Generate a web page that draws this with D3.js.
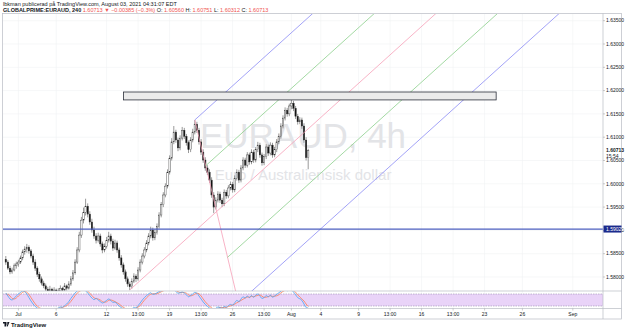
<!DOCTYPE html>
<html lang="sv">
<head>
<meta charset="UTF-8">
<title>EURAUD 4h</title>
<script src="https://d3js.org/d3.v7.min.js"></script>
<style>
  body { margin: 0; background: #fff; }
  svg { display: block; font-family: "Liberation Sans", Arial, sans-serif; }
  .tick-label { font-size: 5px; fill: #131722; }
</style>
</head>
<body>
<svg width="625" height="332"></svg>
<script>
// bars are 4h candles counted from Jul 1 (weekends skipped); the first one is bar -6
const firstBar = -6;
const candles = [
  [1.5838,1.5845,1.5826,1.5832],[1.5832,1.5836,1.5815,1.5819],[1.5819,1.5824,1.5806,1.5811],[1.5811,1.5820,1.5807,1.5815],
  [1.5815,1.5829,1.5812,1.5824],[1.5824,1.5833,1.5818,1.5828],[1.5828,1.5837,1.5822,1.5832],[1.5832,1.5846,1.5828,1.5841],
  [1.5841,1.5859,1.5836,1.5854],[1.5854,1.5866,1.5848,1.5860],[1.5860,1.5871,1.5852,1.5864],[1.5864,1.5868,1.5850,1.5856],
  [1.5856,1.5860,1.5840,1.5845],[1.5845,1.5850,1.5826,1.5832],[1.5832,1.5838,1.5813,1.5819],[1.5819,1.5823,1.5800,1.5806],
  [1.5806,1.5811,1.5790,1.5796],[1.5796,1.5801,1.5782,1.5787],[1.5787,1.5792,1.5776,1.5781],[1.5781,1.5786,1.5768,1.5774],
  [1.5774,1.5779,1.5764,1.5770],[1.5770,1.5781,1.5766,1.5774],[1.5774,1.5777,1.5762,1.5768],[1.5768,1.5778,1.5765,1.5772],
  [1.5772,1.5775,1.5760,1.5766],[1.5766,1.5776,1.5763,1.5770],[1.5770,1.5782,1.5767,1.5776],[1.5776,1.5779,1.5767,1.5772],
  [1.5772,1.5787,1.5770,1.5781],[1.5781,1.5784,1.5771,1.5776],[1.5776,1.5791,1.5773,1.5785],[1.5785,1.5802,1.5781,1.5796],
  [1.5796,1.5815,1.5792,1.5809],[1.5809,1.5838,1.5805,1.5832],[1.5832,1.5864,1.5828,1.5858],[1.5858,1.5897,1.5853,1.5890],
  [1.5890,1.5929,1.5884,1.5922],[1.5922,1.5949,1.5915,1.5939],[1.5939,1.5968,1.5932,1.5952],[1.5952,1.5958,1.5928,1.5935],
  [1.5935,1.5941,1.5912,1.5918],[1.5918,1.5925,1.5895,1.5901],[1.5901,1.5908,1.5882,1.5888],[1.5888,1.5894,1.5872,1.5879],
  [1.5879,1.5895,1.5874,1.5888],[1.5888,1.5893,1.5865,1.5871],[1.5871,1.5876,1.5851,1.5858],[1.5858,1.5872,1.5853,1.5866],
  [1.5866,1.5886,1.5861,1.5879],[1.5879,1.5897,1.5874,1.5888],[1.5888,1.5893,1.5870,1.5877],[1.5877,1.5882,1.5856,1.5862],
  [1.5862,1.5880,1.5858,1.5873],[1.5873,1.5878,1.5852,1.5858],[1.5858,1.5863,1.5835,1.5841],[1.5841,1.5847,1.5820,1.5826],
  [1.5826,1.5831,1.5805,1.5811],[1.5811,1.5816,1.5790,1.5796],[1.5796,1.5801,1.5779,1.5785],[1.5785,1.5790,1.5772,1.5779],
  [1.5779,1.5797,1.5775,1.5791],[1.5791,1.5808,1.5787,1.5802],[1.5802,1.5806,1.5789,1.5796],[1.5796,1.5821,1.5792,1.5815],
  [1.5815,1.5838,1.5810,1.5832],[1.5832,1.5851,1.5827,1.5845],[1.5845,1.5864,1.5840,1.5858],[1.5858,1.5879,1.5853,1.5873],
  [1.5873,1.5894,1.5868,1.5888],[1.5888,1.5908,1.5883,1.5901],[1.5901,1.5906,1.5878,1.5884],[1.5884,1.5902,1.5879,1.5896],
  [1.5896,1.5915,1.5891,1.5909],[1.5909,1.5939,1.5904,1.5933],[1.5933,1.5961,1.5928,1.5955],[1.5955,1.5982,1.5950,1.5976],
  [1.5976,1.6001,1.5971,1.5995],[1.5995,1.6031,1.5990,1.6025],[1.6025,1.6061,1.6020,1.6055],[1.6055,1.6098,1.6050,1.6090],
  [1.6090,1.6124,1.6085,1.6111],[1.6111,1.6116,1.6088,1.6094],[1.6094,1.6099,1.6070,1.6077],[1.6077,1.6104,1.6072,1.6098],
  [1.6098,1.6122,1.6093,1.6115],[1.6115,1.6120,1.6096,1.6102],[1.6102,1.6107,1.6082,1.6088],[1.6088,1.6093,1.6066,1.6073],
  [1.6073,1.6100,1.6068,1.6094],[1.6094,1.6118,1.6089,1.6111],[1.6111,1.6137,1.6106,1.6128],[1.6128,1.6133,1.6109,1.6115],
  [1.6115,1.6120,1.6084,1.6090],[1.6090,1.6096,1.6062,1.6068],[1.6068,1.6074,1.6045,1.6051],[1.6051,1.6057,1.6028,1.6034],
  [1.6034,1.6040,1.6019,1.6025],[1.6025,1.6031,1.6002,1.6008],[1.6008,1.6014,1.5970,1.5976],[1.5976,1.5982,1.5937,1.5950],
  [1.5950,1.5971,1.5945,1.5965],[1.5965,1.5984,1.5960,1.5978],[1.5978,1.5983,1.5959,1.5965],[1.5965,1.5970,1.5950,1.5957],
  [1.5957,1.5988,1.5952,1.5982],[1.5982,1.5987,1.5968,1.5974],[1.5974,1.5997,1.5969,1.5991],[1.5991,1.6005,1.5986,1.5999],
  [1.5999,1.6004,1.5981,1.5987],[1.5987,1.6018,1.5982,1.6012],[1.6012,1.6031,1.6007,1.6025],[1.6025,1.6030,1.6002,1.6008],
  [1.6008,1.6040,1.6003,1.6034],[1.6034,1.6057,1.6029,1.6051],[1.6051,1.6056,1.6034,1.6040],[1.6040,1.6068,1.6035,1.6062],
  [1.6062,1.6067,1.6041,1.6047],[1.6047,1.6074,1.6042,1.6068],[1.6068,1.6073,1.6045,1.6051],[1.6051,1.6079,1.6046,1.6073],
  [1.6073,1.6090,1.6068,1.6083],[1.6083,1.6088,1.6056,1.6062],[1.6062,1.6067,1.6039,1.6045],[1.6045,1.6064,1.6040,1.6058],
  [1.6058,1.6085,1.6053,1.6079],[1.6079,1.6084,1.6060,1.6066],[1.6066,1.6089,1.6061,1.6083],[1.6083,1.6088,1.6056,1.6062],
  [1.6062,1.6079,1.6057,1.6073],[1.6073,1.6096,1.6068,1.6090],[1.6090,1.6108,1.6085,1.6102],[1.6102,1.6130,1.6097,1.6124],
  [1.6124,1.6147,1.6119,1.6141],[1.6141,1.6164,1.6136,1.6158],[1.6158,1.6163,1.6144,1.6150],[1.6150,1.6172,1.6145,1.6167],
  [1.6167,1.6180,1.6160,1.6173],[1.6173,1.6178,1.6156,1.6162],[1.6162,1.6167,1.6139,1.6145],[1.6145,1.6150,1.6127,1.6133],
  [1.6133,1.6143,1.6128,1.6137],[1.6137,1.6142,1.6118,1.6124],[1.6124,1.6130,1.6088,1.6094],[1.6094,1.6100,1.6050,1.6056],
  [1.60560,1.60751,1.60312,1.60713]
];

// stoch RSI pane, read by eye
const stochK = [
  85,70,55,50,60,70,80,88,95,92,80,62,
  45,30,18,10,5,3,2,2,3,6,4,8,6,10,15,14,22,
  30,42,58,72,85,95,100,100,100,96,85,72,60,52,58,50,42,
  35,40,48,55,48,38,40,30,20,12,6,3,1,0,5,12,10,22,35,50,62,72,
  80,86,78,80,86,92,96,100,100,100,100,100,100,92,84,86,90,85,76,66,72,80,88,84,70,
  55,40,28,18,10,4,0,8,15,12,8,18,14,22,28,24,
  36,48,42,55,66,60,70,62,72,64,74,80,70,58,62,72,66,74,64,70,78,86,94,100,100,96,100,100,
  90,76,62,56,48,30,12,10
];
const stochD = [
  80,78,70,58,55,60,70,79,88,92,89,78,
  62,46,31,19,11,6,3,2,2,4,4,6,6,8,10,13,17,
  22,31,43,57,72,84,93,98,100,99,94,84,72,61,57,55,50,
  42,39,41,48,50,47,42,36,30,21,13,7,3,1,2,6,9,15,22,36,49,61,
  71,79,81,81,81,86,91,96,99,100,100,100,100,97,92,87,87,87,84,76,71,73,80,84,81,
  70,55,41,29,19,11,5,4,8,12,12,13,13,18,21,25,
  29,36,42,48,54,60,65,64,68,66,70,73,75,69,63,64,67,71,68,69,71,76,86,93,98,99,99,99,
  97,89,76,65,55,45,30,17
];

const priceTicks = [1.58, 1.585, 1.59, 1.595, 1.60, 1.605, 1.61, 1.615, 1.62, 1.625, 1.63, 1.635];
const timeTicks = [
  {bar: 0, label: "Jul"}, {bar: 18, label: "6"}, {bar: 42, label: "12"}, {bar: 57, label: "13:00"},
  {bar: 72, label: "19"}, {bar: 87, label: "13:00"}, {bar: 102, label: "26"}, {bar: 117, label: "13:00"},
  {bar: 130, label: "Aug"}, {bar: 144, label: "4"}, {bar: 162, label: "9"}, {bar: 177, label: "13:00"},
  {bar: 192, label: "16"}, {bar: 207, label: "13:00"}, {bar: 222, label: "23"}, {bar: 240, label: "26"},
  {bar: 264, label: "Sep"}
];
const hLinePrice = 1.59029;
const lastPrice = 1.60713;
const zone = {bar1: 50, bar2: 227.5, top: 1.6197, bottom: 1.6180};
const fork = {
  p1: {bar: 53, price: 1.5772},
  p2: {bar: 84, price: 1.6137},
  p3: {bar: 104.8, price: 1.5744}
};
const forkLevels = [
  {level: 1, color: "#8c8cf5"}, {level: 0.5, color: "#8bcf8b"}, {level: 0, color: "#f6a0b8"},
  {level: -0.5, color: "#8bcf8b"}, {level: -1, color: "#8c8cf5"}
];

const svg = d3.select("svg");
const pane = {left: 3, right: 603, top: 14, bottom: 291};
const osc = {top: 291, bottom: 308};

const x = d3.scaleLinear().domain([0, 264]).range([18.4, 572.8]);
const y = d3.scaleLinear().domain([1.58, 1.635]).range([277, 20.7]);
const yOsc = d3.scaleLinear().domain([0, 100]).range([310, 290]);

const defs = svg.append("defs");
defs.append("clipPath").attr("id", "clipMain").append("rect")
  .attr("x", pane.left).attr("y", pane.top)
  .attr("width", pane.right - pane.left).attr("height", pane.bottom - pane.top);
defs.append("clipPath").attr("id", "clipOsc").append("rect")
  .attr("x", pane.left).attr("y", osc.top)
  .attr("width", pane.right - pane.left).attr("height", osc.bottom - osc.top);

// grid
const grid = svg.append("g").attr("stroke", "#f0f1f4").attr("stroke-width", 0.6);
grid.selectAll(".v").data(timeTicks).join("line")
  .attr("x1", d => x(d.bar)).attr("x2", d => x(d.bar))
  .attr("y1", pane.top).attr("y2", osc.bottom);
grid.selectAll(".h").data(priceTicks).join("line")
  .attr("x1", pane.left).attr("x2", pane.right)
  .attr("y1", d => y(d)).attr("y2", d => y(d));

// watermark
const cx = (pane.left + pane.right) / 2;
svg.append("text").attr("x", cx).attr("y", 148).attr("text-anchor", "middle")
  .attr("font-size", 35).attr("fill", "#e3e4e7").text("EURAUD, 4h");
svg.append("text").attr("x", cx).attr("y", 180).attr("text-anchor", "middle")
  .attr("font-size", 15).attr("fill", "#e3e4e7").text("Euro / Australiensisk dollar");

const main = svg.append("g").attr("clip-path", "url(#clipMain)");

// candles
const bw = 1.4;
const cg = main.append("g");
cg.selectAll("line").data(candles).join("line")
  .attr("x1", (d, i) => x(firstBar + i)).attr("x2", (d, i) => x(firstBar + i))
  .attr("y1", d => y(d[1])).attr("y2", d => y(d[2]))
  .attr("stroke", "#555").attr("stroke-width", 0.6);
cg.selectAll("rect").data(candles).join("rect")
  .attr("x", (d, i) => x(firstBar + i) - bw / 2).attr("width", bw)
  .attr("y", d => y(Math.max(d[0], d[3])))
  .attr("height", d => Math.max(0.6, Math.abs(y(d[0]) - y(d[3]))))
  .attr("fill", d => d[3] >= d[0] ? "#fff" : "#111")
  .attr("stroke", "#333").attr("stroke-width", 0.4);

// pitchfork
const P = p => [x(p.bar), y(p.price)];
const p1 = P(fork.p1), p2 = P(fork.p2), p3 = P(fork.p3);
const mid = [(p2[0] + p3[0]) / 2, (p2[1] + p3[1]) / 2];
const dir = [mid[0] - p1[0], mid[1] - p1[1]];
const fg = main.append("g").attr("fill", "none").attr("stroke-width", 0.8);
fg.append("line").attr("x1", p2[0]).attr("y1", p2[1]).attr("x2", p3[0]).attr("y2", p3[1])
  .attr("stroke", "#f6a0b8");
fg.append("line").attr("x1", p1[0]).attr("y1", p1[1]).attr("x2", mid[0]).attr("y2", mid[1])
  .attr("stroke", "#f6a0b8");
fg.selectAll(".lvl").data(forkLevels).join("line")
  .attr("x1", d => mid[0] + d.level * (p2[0] - mid[0]))
  .attr("y1", d => mid[1] + d.level * (p2[1] - mid[1]))
  .attr("x2", d => mid[0] + d.level * (p2[0] - mid[0]) + dir[0] * 10)
  .attr("y2", d => mid[1] + d.level * (p2[1] - mid[1]) + dir[1] * 10)
  .attr("stroke", d => d.color);

// rectangle zone
main.append("rect")
  .attr("x", x(zone.bar1)).attr("y", y(zone.top))
  .attr("width", x(zone.bar2) - x(zone.bar1)).attr("height", y(zone.bottom) - y(zone.top))
  .attr("fill", "#ebebeb").attr("stroke", "#2a2e39").attr("stroke-width", 0.8);

// horizontal line
main.append("line").attr("x1", pane.left).attr("x2", pane.right)
  .attr("y1", y(hLinePrice)).attr("y2", y(hLinePrice))
  .attr("stroke", "#4c5fbf").attr("stroke-width", 1.3);

// oscillator pane
const og = svg.append("g").attr("clip-path", "url(#clipOsc)");
og.append("rect").attr("x", pane.left).attr("width", pane.right - pane.left)
  .attr("y", yOsc(80)).attr("height", yOsc(20) - yOsc(80)).attr("fill", "#e9d3f8");
[20, 80].forEach(v => og.append("line").attr("x1", pane.left).attr("x2", pane.right)
  .attr("y1", yOsc(v)).attr("y2", yOsc(v))
  .attr("stroke", "#8a7fa0").attr("stroke-width", 0.5).attr("stroke-dasharray", "1.5,1"));
const oscLine = d3.line().x((d, i) => x(firstBar + i)).y(d => yOsc(d)).curve(d3.curveMonotoneX);
og.append("path").datum(stochD).attr("d", oscLine).attr("fill", "none")
  .attr("stroke", "#ff7b52").attr("stroke-width", 0.8);
og.append("path").datum(stochK).attr("d", oscLine).attr("fill", "none")
  .attr("stroke", "#4aa3f0").attr("stroke-width", 0.8);

// frame
const frame = svg.append("g").attr("stroke", "#b8bbc3").attr("stroke-width", 0.7).attr("fill", "none");
frame.append("rect").attr("x", 2.5).attr("y", 13.5).attr("width", 619).attr("height", 305.5);
frame.append("line").attr("x1", pane.right).attr("x2", pane.right).attr("y1", 13.5).attr("y2", 319);
frame.append("line").attr("x1", 2.5).attr("x2", 621.5).attr("y1", pane.bottom).attr("y2", pane.bottom);
frame.append("line").attr("x1", 2.5).attr("x2", 621.5).attr("y1", osc.bottom + 0.5).attr("y2", osc.bottom + 0.5);

// price axis
const pa = svg.append("g");
pa.selectAll("line").data(priceTicks).join("line")
  .attr("x1", pane.right).attr("x2", pane.right + 2)
  .attr("y1", d => y(d)).attr("y2", d => y(d)).attr("stroke", "#999").attr("stroke-width", 0.5);
pa.selectAll("text").data(priceTicks).join("text").attr("class", "tick-label")
  .attr("x", pane.right + 3).attr("y", d => y(d) + 1.7)
  .text(d => d.toFixed(5));

// last price label
pa.append("text").attr("class", "tick-label").attr("x", pane.right + 3).attr("y", y(lastPrice) + 1.7)
  .attr("font-weight", "bold").text(lastPrice.toFixed(5));
pa.append("text").attr("class", "tick-label").attr("x", pane.right + 3).attr("y", y(lastPrice) + 7)
  .text("15:54");

// horizontal line label
pa.append("rect").attr("x", pane.right + 0.5).attr("y", y(hLinePrice) - 3.5)
  .attr("width", 18).attr("height", 7).attr("fill", "#1b2a8c");
pa.append("text").attr("class", "tick-label").attr("x", pane.right + 3).attr("y", y(hLinePrice) + 1.7)
  .style("fill", "#fff").text(hLinePrice.toFixed(5));

// time axis
const ta = svg.append("g");
ta.selectAll("line").data(timeTicks).join("line")
  .attr("x1", d => x(d.bar)).attr("x2", d => x(d.bar))
  .attr("y1", osc.bottom + 0.5).attr("y2", osc.bottom + 2.5).attr("stroke", "#999").attr("stroke-width", 0.5);
ta.selectAll("text").data(timeTicks).join("text").attr("class", "tick-label")
  .attr("x", d => x(d.bar)).attr("y", 315.5).attr("text-anchor", "middle")
  .text(d => d.label);

// header
const h = svg.append("g").attr("font-size", 5.5).attr("fill", "#131722");
h.append("text").attr("x", 3).attr("y", 6).text("lbkman publicerad på TradingView.com, August 03, 2021 04:31:07 EDT");
const t2 = h.append("text").attr("x", 3).attr("y", 11.5);
const red = "#ef5350";
[
  ["GLOBALPRIME:EURAUD, 240 ", "#131722", "bold"], ["1.60713 ▼ −0.00385 (−0.3%) ", red],
  ["O: ", "#131722"], ["1.60560 ", red], ["H: ", "#131722"], ["1.60751 ", red],
  ["L: ", "#131722"], ["1.60312 ", red], ["C: ", "#131722"], ["1.60713", red]
].forEach(([s, c, w]) => t2.append("tspan").attr("fill", c).attr("font-weight", w || null).text(s));

// logo
const logo = svg.append("g").attr("transform", "translate(3,322)");
logo.append("path").attr("d", "M0,0 h3 v4.5 h-1.5 v-3 h-1.5 z M3.5,0 h1.2 l-1.2,4.5 z M5,0 h1.5 l-1.8,4.5 h-1 z").attr("fill", "#131722");
logo.append("text").attr("x", 8).attr("y", 4.5).attr("font-size", 6).attr("font-weight", "bold")
  .attr("fill", "#131722").text("TradingView");
</script>
</body>
</html>
